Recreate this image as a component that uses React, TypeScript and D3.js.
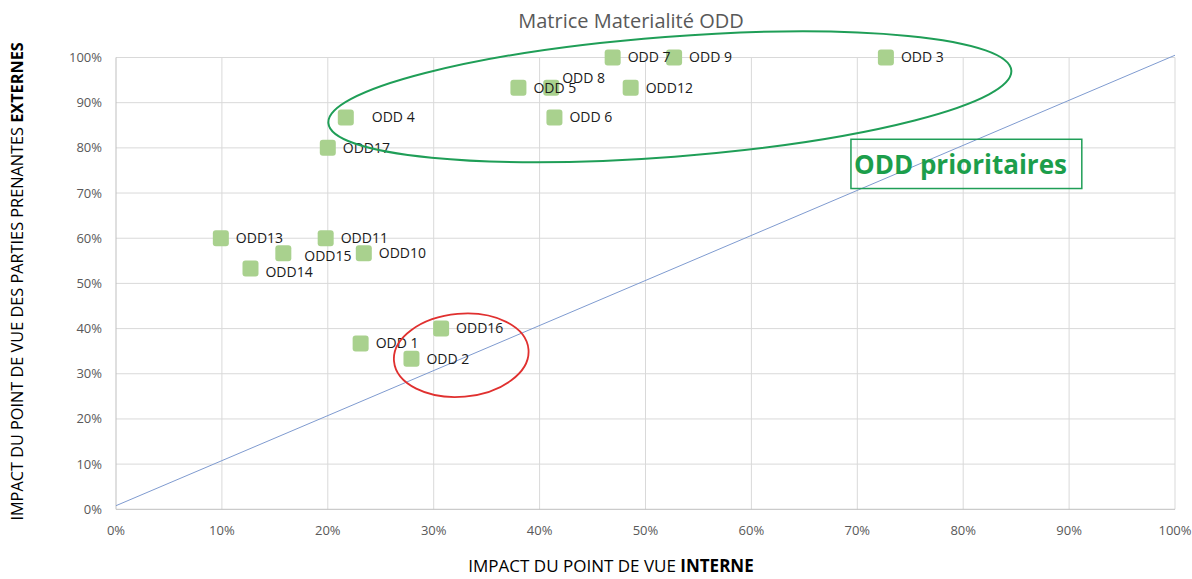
import React, { useEffect, useRef } from 'react';
import { select, scaleLinear, format } from 'd3';

// ODD names with their two impact scores
const names = ['ODD 1', 'ODD 2', 'ODD 3', 'ODD 4', 'ODD 5', 'ODD 6', 'ODD 7', 'ODD 8', 'ODD 9',
  'ODD10', 'ODD11', 'ODD12', 'ODD13', 'ODD14', 'ODD15', 'ODD16', 'ODD17'];
const internalImpact = [0.231, 0.279, 0.727, 0.217, 0.38, 0.414, 0.469, 0.411, 0.527,
  0.234, 0.198, 0.486, 0.099, 0.127, 0.158, 0.307, 0.2];
const externalImpact = [0.367, 0.333, 1.0, 0.867, 0.933, 0.867, 1.0, 0.933, 1.0,
  0.567, 0.6, 0.933, 0.6, 0.533, 0.567, 0.4, 0.8];

const tickValues = [0, 0.1, 0.2, 0.3, 0.4, 0.5, 0.6, 0.7, 0.8, 0.9, 1];

// diagonal reference line (x, y)
const diagStart = [0, 0.008];
const diagEnd = [1, 1.005];

const dims = {
  width: 1192,
  height: 579,
  left: 116,
  right: 1175,
  top: 57.5,
  bottom: 509.3,
};

// small label nudges where Excel put the label elsewhere
const labelNudge: Record<string, [number, number]> = {
  'ODD 4': [11, 0],
  'ODD 8': [-4, -10],
  'ODD15': [6, 2.5],
  'ODD14': [0, 3.4],
};

const FONT = '"Open Sans", "Noto Sans", sans-serif';

const App: React.FC = () => {
  const svgRef = useRef<SVGSVGElement | null>(null);

  useEffect(() => {
    const svg = select(svgRef.current);
    svg.selectAll('*').remove();

    const x = scaleLinear().domain([0, 1]).range([dims.left, dims.right]);
    const y = scaleLinear().domain([0, 1]).range([dims.bottom, dims.top]);
    const pct = format('.0%');

    svg.append('rect').attr('width', dims.width).attr('height', dims.height).attr('fill', '#fff');

    // grid
    const grid = svg.append('g');
    grid.selectAll('line.v')
      .data(tickValues.slice(1))
      .enter()
      .append('line')
      .attr('x1', d => x(d)).attr('x2', d => x(d))
      .attr('y1', dims.top).attr('y2', dims.bottom)
      .attr('stroke', '#d9d9d9');
    grid.selectAll('line.h')
      .data(tickValues.slice(1))
      .enter()
      .append('line')
      .attr('x1', dims.left).attr('x2', dims.right)
      .attr('y1', d => y(d)).attr('y2', d => y(d))
      .attr('stroke', '#d9d9d9');

    // axes lines
    svg.append('line')
      .attr('x1', dims.left).attr('x2', dims.right)
      .attr('y1', y(0)).attr('y2', y(0))
      .attr('stroke', '#bfbfbf');
    svg.append('line')
      .attr('x1', x(0)).attr('x2', x(0))
      .attr('y1', dims.top).attr('y2', dims.bottom)
      .attr('stroke', '#bfbfbf');

    // tick labels
    svg.append('g')
      .selectAll('text')
      .data(tickValues)
      .enter()
      .append('text')
      .attr('x', dims.left - 14)
      .attr('y', d => y(d))
      .attr('dy', '0.35em')
      .attr('text-anchor', 'end')
      .attr('font-family', FONT)
      .attr('font-size', 13)
      .attr('fill', '#595959')
      .text(d => pct(d));
    svg.append('g')
      .selectAll('text')
      .data(tickValues)
      .enter()
      .append('text')
      .attr('x', d => x(d))
      .attr('y', 535)
      .attr('text-anchor', 'middle')
      .attr('font-family', FONT)
      .attr('font-size', 13)
      .attr('fill', '#595959')
      .text(d => pct(d));

    // diagonal
    svg.append('line')
      .attr('x1', x(diagStart[0])).attr('y1', y(diagStart[1]))
      .attr('x2', x(diagEnd[0])).attr('y2', y(diagEnd[1]))
      .attr('stroke', '#7f9bd0')
      .attr('stroke-width', 1);

    const points = names.map((n, i) => ({ name: n, ix: internalImpact[i], ex: externalImpact[i] }));

    // markers
    svg.append('g')
      .selectAll('rect')
      .data(points)
      .enter()
      .append('rect')
      .attr('x', d => x(d.ix) - 8)
      .attr('y', d => y(d.ex) - 8)
      .attr('width', 16)
      .attr('height', 16)
      .attr('rx', 3)
      .attr('fill', '#a9d18e');

    // data labels
    svg.append('g')
      .selectAll('text')
      .data(points)
      .enter()
      .append('text')
      .attr('x', d => x(d.ix) + 15 + (labelNudge[d.name]?.[0] ?? 0))
      .attr('y', d => y(d.ex) + (labelNudge[d.name]?.[1] ?? 0))
      .attr('dy', '0.35em')
      .attr('font-family', FONT)
      .attr('font-size', 14)
      .attr('fill', '#1a1a1a')
      .text(d => d.name);

    // green ellipse round the top cluster
    const gcx = x(0.523), gcy = y(0.913);
    svg.append('ellipse')
      .attr('cx', gcx).attr('cy', gcy)
      .attr('rx', x(0.3234) - x(0)).attr('ry', 60)
      .attr('transform', `rotate(-4.4 ${gcx} ${gcy})`)
      .attr('fill', 'none')
      .attr('stroke', '#1f9e57')
      .attr('stroke-width', 2);

    // red ellipse
    const rcx = x(0.326), rcy = y(0.341);
    svg.append('ellipse')
      .attr('cx', rcx).attr('cy', rcy)
      .attr('rx', 67.5).attr('ry', 41.5)
      .attr('transform', `rotate(-5 ${rcx} ${rcy})`)
      .attr('fill', 'none')
      .attr('stroke', '#e0302f')
      .attr('stroke-width', 1.8);

    // prioritaires box
    const bx0 = x(0.694), bx1 = x(0.912), by0 = y(0.819), by1 = y(0.71);
    svg.append('rect')
      .attr('x', bx0).attr('y', by0)
      .attr('width', bx1 - bx0).attr('height', by1 - by0)
      .attr('fill', 'none')
      .attr('stroke', '#1f9e57')
      .attr('stroke-width', 1.5);
    svg.append('text')
      .attr('x', bx0 + 3)
      .attr('y', 174)
      .attr('font-family', FONT)
      .attr('font-weight', 'bold')
      .attr('font-size', 26)
      .attr('fill', '#1c9e4b')
      .text('ODD prioritaires');

    // title
    svg.append('text')
      .attr('x', 631)
      .attr('y', 28)
      .attr('text-anchor', 'middle')
      .attr('font-family', FONT)
      .attr('font-size', 20)
      .attr('fill', '#595959')
      .text('Matrice Materialité ODD');

    // axis titles
    const xt = svg.append('text')
      .attr('x', 611)
      .attr('y', 572)
      .attr('text-anchor', 'middle')
      .attr('font-family', FONT)
      .attr('font-size', 17)
      .attr('fill', '#000');
    xt.append('tspan').text('IMPACT DU POINT DE VUE ');
    xt.append('tspan').attr('font-weight', 'bold').text('INTERNE');

    const yt = svg.append('text')
      .attr('transform', `translate(23, ${(dims.top + dims.bottom) / 2 - 2}) rotate(-90)`)
      .attr('text-anchor', 'middle')
      .attr('font-family', FONT)
      .attr('font-size', 16.3)
      .attr('fill', '#000');
    yt.append('tspan').text('IMPACT DU POINT DE VUE DES PARTIES PRENANTES ');
    yt.append('tspan').attr('font-weight', 'bold').text('EXTERNES');
  }, []);

  return (
    <svg
      ref={svgRef}
      width={dims.width}
      height={dims.height}
      style={{ position: 'absolute', left: 0, top: 0, display: 'block' }}
    />
  );
};

export default App;
